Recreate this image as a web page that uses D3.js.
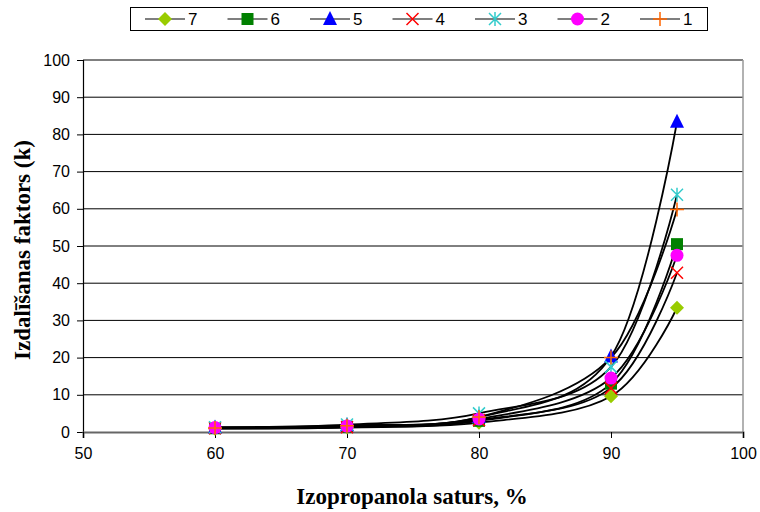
<!DOCTYPE html>
<html>
<head>
<meta charset="utf-8">
<script src="https://cdn.jsdelivr.net/npm/d3@7"></script>
<style>
  body { margin: 0; background: #fff; }
</style>
</head>
<body>
<svg id="chart" width="760" height="512"></svg>
<script>
// --- DATA ---
const xValues = [60, 70, 80, 90, 95];
const seriesNames = ["7", "6", "5", "4", "3", "2", "1"];
const s7 = [0.9, 1.2, 2.5, 9.6, 33.4];
const s6 = [1.0, 1.4, 3.0, 13.0, 50.5];
const s5 = [1.2, 1.8, 4.0, 20.3, 83.4];
const s4 = [1.0, 1.3, 3.2, 11.8, 42.8];
const s3 = [1.3, 2.0, 5.0, 17.5, 63.8];
const s2 = [1.2, 1.6, 3.5, 14.5, 47.5];
const s1 = [1.1, 1.7, 4.0, 20.0, 59.8];
const seriesValues = [s7, s6, s5, s4, s3, s2, s1];
const xTicks = [50, 60, 70, 80, 90, 100];
const yTicks = [0, 10, 20, 30, 40, 50, 60, 70, 80, 90, 100];

// --- STYLE ---
const markerStyle = {
  "7": { shape: "diamond", color: "#99cc00" },
  "6": { shape: "square", color: "#008000" },
  "5": { shape: "triangle", color: "#0000ff" },
  "4": { shape: "x", color: "#ff0000" },
  "3": { shape: "star", color: "#33cccc" },
  "2": { shape: "circle", color: "#ff00ff" },
  "1": { shape: "plus", color: "#ff6600" }
};
const sansFont = "Arial, 'Liberation Sans', sans-serif";
const serifFont = "'Liberation Serif', 'Times New Roman', serif";

const svg = d3.select("#chart");
const plot = { left: 83, right: 743, top: 60, bottom: 432 };

// --- SCALES ---
const x = d3.scaleLinear().domain([50, 100]).range([plot.left, plot.right]);
const y = d3.scaleLinear().domain([0, 100]).range([plot.bottom, plot.top]);

// gridlines
svg.append("g").selectAll("line").data(yTicks.filter(t => t > 0)).join("line")
  .attr("x1", plot.left).attr("x2", plot.right)
  .attr("y1", d => y(d)).attr("y2", d => y(d))
  .attr("stroke", "#000").attr("stroke-width", 1);

// right border of plot area
svg.append("line").attr("x1", plot.right).attr("x2", plot.right)
  .attr("y1", plot.top).attr("y2", plot.bottom)
  .attr("stroke", "#999").attr("stroke-width", 1.5);

// --- AXES ---
const yAxis = svg.append("g").attr("transform", `translate(${plot.left},0)`)
  .call(d3.axisLeft(y).tickValues(yTicks).tickSize(6).tickPadding(7));
const xAxis = svg.append("g").attr("transform", `translate(0,${plot.bottom})`)
  .call(d3.axisBottom(x).tickValues(xTicks).tickSize(6).tickPadding(10));
[yAxis, xAxis].forEach(a => {
  a.select(".domain").attr("stroke", "#000").attr("stroke-width", 1.2);
  a.selectAll(".tick line").attr("stroke", "#000");
  a.selectAll("text").attr("font-size", 16).attr("fill", "#000")
    .attr("font-family", sansFont);
});
xAxis.select(".domain").attr("stroke", "#666").attr("stroke-width", 2);

// --- LINES ---
const line = d3.line()
  .x((d, i) => x(xValues[i]))
  .y(d => y(d))
  .curve(d3.curveCatmullRom.alpha(0));

svg.append("g").selectAll("path").data(seriesValues).join("path")
  .attr("d", d => line(d))
  .attr("fill", "none").attr("stroke", "#000").attr("stroke-width", 1.8);

// --- MARKERS ---
function drawMarker(g, shape, color) {
  if (shape === "diamond") {
    g.append("path").attr("d", "M0,-7L7,0L0,7L-7,0Z").attr("fill", color);
  } else if (shape === "square") {
    g.append("rect").attr("x", -6).attr("y", -6).attr("width", 12).attr("height", 12).attr("fill", color);
  } else if (shape === "triangle") {
    g.append("path").attr("d", "M0,-8L7,6L-7,6Z").attr("fill", color);
  } else if (shape === "circle") {
    g.append("circle").attr("r", 6.5).attr("fill", color);
  } else if (shape === "x") {
    g.append("path").attr("d", "M-6,-6L6,6M-6,6L6,-6").attr("stroke", color).attr("stroke-width", 1.5);
  } else if (shape === "star") {
    g.append("path").attr("d", "M-6,-6L6,6M-6,6L6,-6M0,-7L0,7").attr("stroke", color).attr("stroke-width", 1.5);
  } else if (shape === "plus") {
    g.append("path").attr("d", "M-7,0L7,0M0,-7L0,7").attr("stroke", color).attr("stroke-width", 1.5);
  }
}

seriesNames.forEach((name, si) => {
  const st = markerStyle[name];
  seriesValues[si].forEach((v, i) => {
    const g = svg.append("g").attr("transform", `translate(${x(xValues[i])},${y(v)})`);
    drawMarker(g, st.shape, st.color);
  });
});

// --- LEGEND ---
const legend = svg.append("g");
legend.append("rect").attr("x", 130.5).attr("y", 7.5).attr("width", 577).attr("height", 23)
  .attr("fill", "#fff").attr("stroke", "#000").attr("stroke-width", 1);
const legendX = d3.scalePoint().domain(seriesNames).range([165, 660]);
seriesNames.forEach(name => {
  const cx = legendX(name);
  const item = legend.append("g").attr("transform", `translate(${cx},19)`);
  item.append("line").attr("x1", -20).attr("x2", 20).attr("stroke", "#000").attr("stroke-width", 1.2);
  drawMarker(item, markerStyle[name].shape, markerStyle[name].color);
  item.append("text").attr("x", 23).attr("y", 6).attr("font-size", 17)
    .attr("font-family", sansFont).attr("fill", "#000").text(name);
});

// --- TITLES ---
svg.append("text").attr("x", 412).attr("y", 504).attr("text-anchor", "middle")
  .attr("font-family", serifFont)
  .attr("font-weight", "bold").attr("font-size", 23).text("Izopropanola saturs, %");
svg.append("text").attr("transform", "translate(30,250) rotate(-90)").attr("text-anchor", "middle")
  .attr("font-family", serifFont)
  .attr("font-weight", "bold").attr("font-size", 23).text("Izdalīšanas faktors (k)");
</script>
</body>
</html>
